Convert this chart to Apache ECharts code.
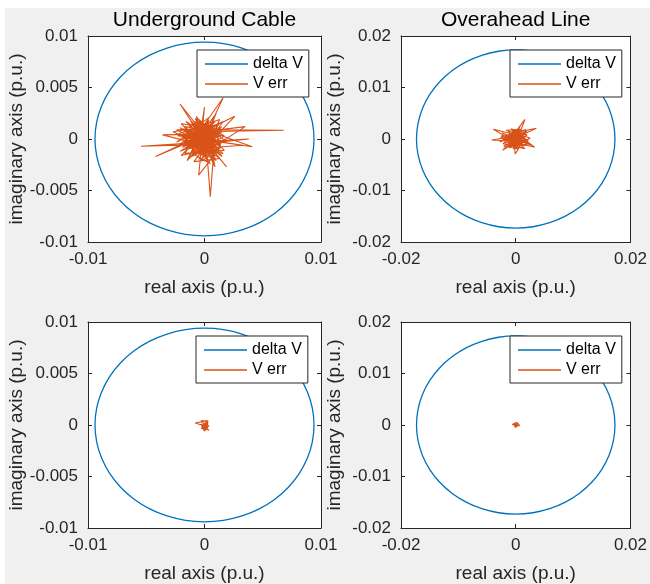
<!DOCTYPE html>
<html><head><meta charset="utf-8">
<script src="https://cdn.jsdelivr.net/npm/echarts@6/dist/echarts.min.js"></script>
<style>
html,body{margin:0;padding:0;background:#fff;}
#bg{position:absolute;left:5px;top:8px;width:645px;height:576px;background:#f0f0f0;}
#chart{position:absolute;left:0;top:0;width:650px;height:584px;}
</style></head><body><div id="bg"></div><div id="chart"></div>
<script>
// ---- data ----
var panelTitles = ['Underground Cable', 'Overahead Line', '', ''];
var seriesNames = ['delta V', 'V err'];
var xLabel = 'real axis (p.u.)';
var yLabel = 'imaginary axis (p.u.)';

var ucXTicks = [-0.01, 0, 0.01];
var ucYTicks = [-0.01, -0.005, 0, 0.005, 0.01];
var ohXTicks = [-0.02, 0, 0.02];
var ohYTicks = [-0.02, -0.01, 0, 0.01, 0.02];

// delta V trajectory, underground cable (radius ~0.0094)
var ucDeltaV = [
 [0.007201,0.006042],[0.006042,0.007201],[0.0047,0.008141],[0.003215,0.008833],[0.001632,0.009257],[0,0.0094],
 [-0.001632,0.009257],[-0.003215,0.008833],[-0.0047,0.008141],[-0.006042,0.007201],[-0.007201,0.006042],
 [-0.008141,0.0047],[-0.008833,0.003215],[-0.009257,0.001632],[-0.0094,0],[-0.009257,-0.001632],
 [-0.008833,-0.003215],[-0.008141,-0.0047],[-0.007201,-0.006042],[-0.006042,-0.007201],[-0.0047,-0.008141],
 [-0.003215,-0.008833],[-0.001632,-0.009257],[0,-0.0094],[0.001632,-0.009257],[0.003215,-0.008833],
 [0.0047,-0.008141],[0.006042,-0.007201],[0.007201,-0.006042],[0.008141,-0.0047],[0.008833,-0.003215],
 [0.009257,-0.001632],[0.0094,0],[0.009257,0.001632],[0.008833,0.003215],[0.008141,0.0047],[0.007201,0.006042]
];
// delta V trajectory, overhead line (radius ~0.0173)
var ohDeltaV = [
 [0.013252,0.01112],[0.01112,0.013252],[0.00865,0.014982],[0.005917,0.016257],[0.003003,0.017037],[0,0.0173],
 [-0.003003,0.017037],[-0.005917,0.016257],[-0.00865,0.014982],[-0.01112,0.013252],[-0.013252,0.01112],
 [-0.014982,0.00865],[-0.016257,0.005917],[-0.017037,0.003003],[-0.0173,0],[-0.017037,-0.003003],
 [-0.016257,-0.005917],[-0.014982,-0.00865],[-0.013252,-0.01112],[-0.01112,-0.013252],[-0.00865,-0.014982],
 [-0.005917,-0.016257],[-0.003003,-0.017037],[0,-0.0173],[0.003003,-0.017037],[0.005917,-0.016257],
 [0.00865,-0.014982],[0.01112,-0.013252],[0.013252,-0.01112],[0.014982,-0.00865],[0.016257,-0.005917],
 [0.017037,-0.003003],[0.0173,0],[0.017037,0.003003],[0.016257,0.005917],[0.014982,0.00865],[0.013252,0.01112]
];

// V err, underground cable (top)
var ucErrTop = [
 [0,0],[-0.0012,0.0009],[0.0008,-0.0007],[-0.0004,0.0014],[0.0012,0.0002],[-0.0017,-0.0005],[0.0003,-0.0018],[-0.0009,0.0003],[0.0014,0.001],[-0.0002,-0.0011],
 [0.0026,0.0022],[-0.0007,0.0004],[0.0006,-0.0013],[-0.0021,0.0034],[-0.0005,0.0011],[0.0009,-0.0002],[-0.0015,-0.001],[0.0016,0.004],[0.0002,0.0006],[-0.0011,-0.0016],
 [0.0005,0.0009],[0.0068,0.00085],[-0.0003,0.0007],[-0.0019,0.0001],[0.0007,0.0015],[-0.0008,-0.0009],[0.0011,-0.0005],[-0.00545,-0.0007],[0.0001,-0.0003],[-0.0013,0.0013],
 [0.0013,-0.0012],[-0.0006,-0.0002],[0.0004,0.0018],[-0.0022,-0.0006],[0.0009,0.0004],[0.0005,-0.0056],[0.0001,0.0002],[-0.001,0.0006],[0.0015,-0.0008],[-0.0004,-0.0016],
 [0.0035,0.0012],[-0.0016,0.0005],[0.0002,-0.0009],[-0.0009,0.0017],[0.001,0.0008],[-0.0042,-0.0017],[0,0.0005],[-0.0014,-0.0002],[0.0008,-0.0015],[-0.0002,0.001],
 [0.0041,-0.00075],[-0.0011,0.0001],[0.0006,0.0003],[-0.0005,-0.002],[0.0012,0.0014],[-0.0027,0.0007],[-0.0001,-0.0006],[0.001,-0.0001],[-0.0018,0.001],[0.0003,-0.0014],
 [-0.0012,0.0018],[0.0007,-0.0004],[-0.0003,0.0003],[0.0019,-0.0027],[-0.0007,0.0009],[0.0004,-0.0001],[-0.0021,-0.0012],[0.0009,0.0011],[-0.0005,-0.0005],[0.0038,0],
 [-0.0009,-0.0003],[0.0002,0.0013],[-0.0014,0.0004],[0.0013,-0.0009],[-0.0005,-0.0035],[-0.0001,0.0008],[0.0006,-0.0008],[-0.0036,0.0004],[0.0008,0.0005],[-0.0006,-0.0013],
 [0,0.0031],[-0.0003,-0.0004],[0.0011,0.0009],[-0.0016,-0.0009],[0.0005,-0.0002],[0.0009,-0.0027],[-0.0008,0.0012],[0.0003,0.0001],[-0.001,-0.0007],[0.001,0.0025],
 [-0.0002,-0.0009],[0.0033,-0.0006],[-0.0013,0.0002],[0.0001,-0.0017],[-0.0007,0.0015],[0.0014,0.0003],[-0.0019,-0.0003],[0.0006,0.0012],[-0.0004,-0.0008],[0.0002,0],
 [-0.0008,0.0007],[0.0005,-0.0011],[-0.0015,0.0002],[0.0011,0.0006],[-0.0003,-0.0014],[0.0007,0.0011],[-0.0019,-0.0008],[0.0004,0.0004],[-0.0006,0.0016],[0.0012,-0.0004],
 [-0.001,-0.0011],[0.0001,0.0009],[-0.0017,0.0012],[0.0009,-0.0016],[-0.0004,0.0002],[0.0015,0.0012],[-0.0012,-0.0004],[0.0003,-0.0006],[-0.0007,0.0011],[0.0008,0.0001],
 [-0.0023,0.0003],[0.0006,0.0007],[-0.0002,-0.0019],[0.0012,0.0001],[-0.0014,0.0008],[0.0002,-0.0003],
 [-0.0021,0.0011],[0.0013,-0.0019],[-0.0009,-0.0022],[0.0016,0.0017],[-0.0024,-0.0003],[0.0004,0.0021],[-0.0013,-0.0018],[0.0018,-0.0002],[-0.0005,0.0019],[0.001,-0.0021],
 [-0.002,0.0015],[0.0015,0.0007],[-0.0011,-0.0013],[0.0002,0.0016],[-0.0017,-0.0014],[0.0017,-0.0011],[-0.0008,0.002],[0.0007,-0.0019],[-0.0022,0.0005],[0.0013,0.0019],
 [-0.0003,-0.0021],[0.0011,-0.0013],[-0.0016,0.0017],[0.0006,0.0002],[-0.0012,-0.0007],[0.0016,-0.0014],[-0.0006,0.0004],[0.0009,0.0017],[-0.002,-0.0016],[0.0003,-0.001],
 [-0.001,0.0014],[0.0014,-0.0006],[-0.0001,0.0012],[-0.0015,-0.0021],[0.0012,0.0009],[-0.0024,0.0009],[0.0008,-0.0009],[-0.0004,0.0017],[0.0017,0.0003],[-0.0009,-0.0015],
 [0.0005,-0.0024],[-0.0014,0.0003],[0.001,0.0013],[-0.0018,-0.0005],[0.0001,-0.0012],[-0.0007,0.0022],[0.0015,-0.0017],[-0.0011,0.0006],[0.0004,0.0008],[-0.0002,-0.0003]
];
// V err, overhead line (top)
var ohErrTop = [
 [0,0],[-0.0012,0.0008],[0.001,-0.0006],[-0.0005,0.0013],[0.0015,0.0004],[-0.0039,0.0019],[0.0003,-0.0009],[-0.0016,-0.0003],[0.0012,0.0011],[-0.0002,-0.0014],
 [0.0016,0.0038],[-0.0008,0.0002],[0.0007,-0.0011],[-0.0011,0.001],[0.0036,0.0021],[0.0001,0.0003],[-0.0019,-0.0008],[0.0009,0.0007],[-0.0042,-0.0002],[0.0004,-0.0005],
 [-0.0006,0.0016],[0.0033,-0.0016],[-0.0009,-0.0004],[0.0006,0.0014],[-0.0014,0.0004],[0.0014,-0.0003],[-0.0001,-0.0029],[-0.0003,0.0009],[0.0011,0.0002],[-0.0023,-0.0022],
 [0.0005,0.001],[-0.0007,-0.001],[0.002,0.0008],[-0.0013,0.0015],[0.0002,-0.0002],[0.0024,-0.0008],[-0.0004,0.0005],[0.0008,0.0025],[-0.001,-0.0001],[0.0003,0.0006],
 [-0.0025,0.0006],[0.0013,-0.0012],[-0.0002,0.0012],[0.0006,-0.0003],[-0.0009,0.0005],[0.0011,-0.0009],[-0.0015,-0.0012],[0.0017,0.0005],[-0.0004,0.0011],[0.0003,-0.0013],
 [-0.0018,0.0002],[0.0009,0.0012],[-0.0006,-0.0006],[0.0014,0.0001],[-0.0011,0.0009],[0.0001,-0.0001],
 [-0.0024,0.0012],[0.0021,-0.001],[-0.0012,-0.0017],[0.0019,0.0015],[-0.0028,-0.0006],[0.0008,0.0019],[-0.0017,0.0017],[0.0025,0.0002],[-0.0005,-0.0019],[0.0012,-0.0016],
 [-0.0021,-0.0014],[0.0015,0.001],[-0.0008,0.002],[0.0022,-0.0004],[-0.0015,0],[0.0005,-0.0021],[-0.0026,0.0004],[0.0018,0.0018],[-0.0003,0.0014],[0.001,-0.0005],
 [-0.0019,0.0009],[0.0027,-0.0012],[-0.001,-0.0013],[0.0004,0.0017],[-0.0022,-0.0009],[0.0016,-0.0019],[-0.0006,0.0008],[0.0013,0.0006],[-0.0001,-0.0008],[0.0002,0.0002]
];
// V err, underground cable (bottom)
var ucErrBottom = [
 [0,0],[-0.0002,0.0003],[0.0003,-0.0002],[-0.0008,0.0002],[0.0001,0.0004],[0.0003,0.0001],[-0.0001,-0.0003],[0.0004,-0.0005],
 [-0.0002,-0.0001],[0.0002,0.0003],[0,-0.0006],[-0.0003,0.0001],[0.0003,-0.0003],[0.0001,0.0002],[-0.0001,-0.0001],[0.0002,-0.0001],
 [-0.0003,0.0004],[0.0003,0.0004],[0.0001,-0.0005],[-0.0003,-0.0003],[0.0004,-0.0001],[0,0]
];
// V err, overhead line (bottom)
var ohErrBottom = [
 [0,0],[-0.0004,0.0003],[0.0003,-0.0002],[-0.0006,0.0001],[0.0002,0.0005],[0.0007,-0.0001],[-0.0002,-0.0004],
 [0.0001,0.0002],[-0.0003,-0.0001],[0.0004,0.0003],[0,-0.0005],[-0.0002,0.0004],[0.0003,0],[0,0]
];

// ---- layout / style ----
var BLUE = '#0072BD', ORANGE = '#D95319', AX = '#262626';
var FONT = 'Liberation Sans, Arial, Helvetica, sans-serif';
var panels = [
  {title: panelTitles[0], left: 88,  top: 36,  xt: ucXTicks, yt: ucYTicks, dv: ucDeltaV, err: ucErrTop,    lg: [197, 50]},
  {title: panelTitles[1], left: 401, top: 36,  xt: ohXTicks, yt: ohYTicks, dv: ohDeltaV, err: ohErrTop,    lg: [510, 50]},
  {title: panelTitles[2], left: 88,  top: 322, xt: ucXTicks, yt: ucYTicks, dv: ucDeltaV, err: ucErrBottom, lg: [196, 336]},
  {title: panelTitles[3], left: 401, top: 322, xt: ohXTicks, yt: ohYTicks, dv: ohDeltaV, err: ohErrBottom, lg: [510, 336]}
];

function step(t) { return +(t[1] - t[0]).toFixed(6); }

var grid = [], xAxis = [], yAxis = [], series = [], legend = [];
panels.forEach(function (p, i) {
  grid.push({left: p.left, top: p.top, width: 233, height: 206, show: true,
             backgroundColor: '#fff', borderWidth: 0, containLabel: false});
  var xs = {min: p.xt[0], max: p.xt[p.xt.length - 1], interval: step(p.xt)};
  var ys = {min: p.yt[0], max: p.yt[p.yt.length - 1], interval: step(p.yt)};
  var common = {
    type: 'value', gridIndex: i, splitLine: {show: false},
    axisLine: {show: true, onZero: false, lineStyle: {color: AX, width: 1}},
    axisTick: {show: true, inside: true, length: 4, lineStyle: {color: AX, width: 1}}
  };
  xAxis.push(Object.assign({}, common, xs, {
    position: 'bottom',
    axisLabel: {show: true, margin: 9, fontSize: 17, color: AX, fontFamily: FONT},
    name: xLabel, nameLocation: 'middle', nameGap: 36,
    nameTextStyle: {fontSize: 19, color: AX, fontFamily: FONT}
  }));
  xAxis.push(Object.assign({}, common, xs, {
    position: 'top', axisLabel: {show: false},
    name: p.title, nameLocation: 'middle', nameGap: 5,
    nameTextStyle: {fontSize: 21, color: '#000', fontFamily: FONT}
  }));
  yAxis.push(Object.assign({}, common, ys, {
    position: 'left',
    axisLabel: {show: true, margin: 10, fontSize: 17, color: AX, fontFamily: FONT},
    name: yLabel, nameLocation: 'middle', nameGap: 57, nameRotate: 90,
    nameTextStyle: {fontSize: 19, color: AX, fontFamily: FONT}
  }));
  yAxis.push(Object.assign({}, common, ys, {position: 'right', axisLabel: {show: false}}));

  series.push({
    name: seriesNames[0], type: 'line', xAxisIndex: 2 * i, yAxisIndex: 2 * i,
    data: p.dv, symbol: 'none', smooth: 0.33, lineStyle: {color: BLUE, width: 1.3},
    itemStyle: {color: BLUE}, animation: false, silent: true, z: 2
  });
  series.push({
    name: seriesNames[1], type: 'line', xAxisIndex: 2 * i, yAxisIndex: 2 * i,
    data: p.err, symbol: 'none', lineStyle: {color: ORANGE, width: 1.1},
    itemStyle: {color: ORANGE}, animation: false, silent: true, z: 3
  });
  legend.push({
    left: p.lg[0], top: p.lg[1], orient: 'vertical', data: seriesNames,
    icon: 'rect', itemWidth: 43, itemHeight: 1.5, itemGap: 4,
    padding: [6, 6, 5, 8], backgroundColor: '#fff', borderColor: AX, borderWidth: 1,
    selectedMode: false, textStyle: {fontSize: 16, color: '#000', fontFamily: FONT}
  });
});

var chart = echarts.init(document.getElementById('chart'), null, {renderer: 'canvas'});
chart.setOption({
  backgroundColor: 'transparent', animation: false,
  grid: grid, xAxis: xAxis, yAxis: yAxis, series: series, legend: legend
});
</script></body></html>
